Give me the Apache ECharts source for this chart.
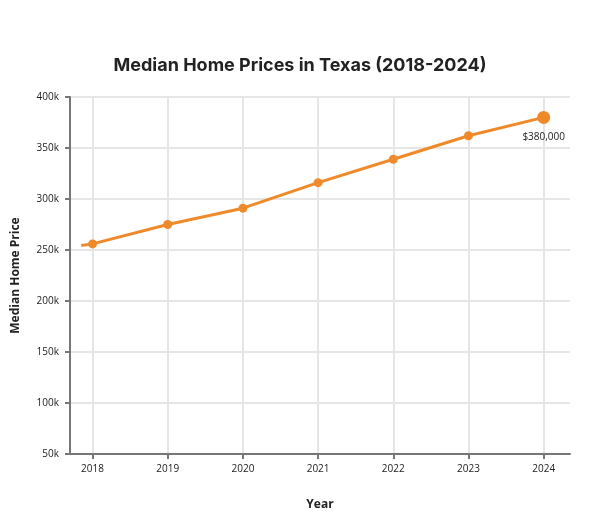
<!DOCTYPE html>
<html>
<head>
<meta charset="utf-8">
<script src="https://cdn.jsdelivr.net/npm/echarts@6/dist/echarts.min.js"></script>
<style>
  html, body { margin: 0; padding: 0; background: #fff; }
  #chart { width: 600px; height: 530px; }
</style>
</head>
<body>
<div id="chart"></div>
<script>
// data
var years = [2018, 2019, 2020, 2021, 2022, 2023, 2024];
var prices = [256000, 275000, 291000, 316000, 339000, 362000, 380000];
// the drawn line starts a little before the 2018 point
var leadIn = [2017.85, 254500];
var yTicks = [50000, 100000, 150000, 200000, 250000, 300000, 350000, 400000];

var orange = '#ef8a2a';
var lastIdx = years.length - 1;

var lineData = [{ value: leadIn, symbol: 'none' }];
for (var i = 0; i < years.length; i++) {
  var item = { value: [years[i], prices[i]] };
  if (i === lastIdx) {
    item.symbolSize = 13;
    item.label = {
      show: true,
      position: 'bottom',
      offset: [0, 3],
      fontSize: 10,
      color: '#222',
      fontFamily: 'Open Sans',
      formatter: function (p) {
        return '$' + p.value[1].toLocaleString('en-US');
      }
    };
  }
  lineData.push(item);
}

var chart = echarts.init(document.getElementById('chart'), null, { renderer: 'canvas' });

var option = {
  animation: false,
  title: {
    text: 'Median Home Prices in Texas (2018-2024)',
    left: 'center',
    top: 52,
    textStyle: {
      fontFamily: 'Inter',
      fontWeight: 'bold',
      fontSize: 18,
      color: '#222'
    }
  },
  grid: {
    left: 70,
    right: 30,
    top: 97,
    bottom: 76,
    outerBoundsMode: 'none'
  },
  xAxis: {
    type: 'value',
    min: 2017.7,
    max: 2024.35,
    name: 'Year',
    nameLocation: 'middle',
    nameGap: 45,
    nameTextStyle: { fontFamily: 'Open Sans', fontWeight: 'bold', fontSize: 12, color: '#222' },
    axisLine: { show: true, lineStyle: { color: '#777', width: 2 } },
    axisTick: { show: true, customValues: years, length: 5, lineStyle: { color: '#777', width: 2 } },
    axisLabel: {
      customValues: years,
      fontFamily: 'Open Sans',
      fontSize: 10,
      color: '#222',
      margin: 10,
      formatter: function (v) { return String(v); }
    },
    splitLine: { show: true, lineStyle: { color: '#e6e6e6', width: 2 } }
  },
  yAxis: {
    type: 'value',
    min: 50000,
    max: 400000,
    interval: 50000,
    name: 'Median Home Price',
    nameLocation: 'middle',
    nameGap: 48,
    nameTextStyle: { fontFamily: 'Open Sans', fontWeight: 'bold', fontSize: 12, color: '#222' },
    axisLine: { show: true, lineStyle: { color: '#777', width: 2 } },
    axisTick: { show: true, length: 5, lineStyle: { color: '#777', width: 2 } },
    axisLabel: {
      fontFamily: 'Open Sans',
      fontSize: 10,
      color: '#222',
      margin: 11,
      formatter: function (v) {
        return yTicks.indexOf(v) >= 0 ? (v / 1000) + 'k' : '';
      }
    },
    splitLine: { show: true, lineStyle: { color: '#e6e6e6', width: 2 } }
  },
  series: [{
    type: 'line',
    data: lineData,
    symbol: 'circle',
    symbolSize: 9,
    itemStyle: { color: orange },
    lineStyle: { color: orange, width: 3 },
    z: 3
  }]
};

chart.setOption(option);
</script>
</body>
</html>
